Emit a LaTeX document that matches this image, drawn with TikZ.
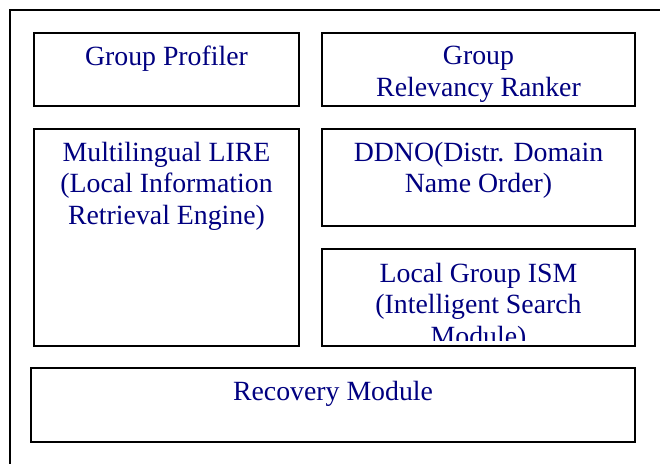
\documentclass[tikz,border=0pt]{standalone}
\usepackage{fontspec}
\setmainfont{Liberation Serif}
\definecolor{navytext}{RGB}{0,0,128}
\begin{document}
\begin{tikzpicture}[x=1pt,y=-1pt,
  box/.style={draw=black, line width=2.6pt, inner sep=0pt, outer sep=0pt, rectangle},
  txt/.style={text=navytext, font=\fontsize{27.8pt}{31.5pt}\selectfont, align=center, inner sep=0pt, anchor=base}]
\useasboundingbox (0,0) rectangle (660,463);
\clip (0,0) rectangle (660,463);
\fill[white] (0,0) rectangle (660,463);
\node[box, minimum width=680pt, minimum height=480pt] (outer) at (350,250) {};
\node[box, minimum width=265pt, minimum height=73pt] (gp) at (166.5,69.5) {};
\node[box, minimum width=313pt, minimum height=73pt] (grr) at (478.5,69.5) {};
\node[box, minimum width=265pt, minimum height=217pt] (lire) at (166.5,237.5) {};
\node[box, minimum width=313pt, minimum height=97pt] (ddno) at (478.5,177.5) {};
\node[box, minimum width=313pt, minimum height=97pt] (ism) at (478.5,297.5) {};
\node[box, minimum width=604pt, minimum height=74pt] (rec) at (333,405) {};
\node[txt] (gpt) at ([yshift=-32pt]gp.north) {Group Profiler};
\node[txt] (grrt) at ([yshift=-63pt]grr.north) {Group\\Relevancy Ranker};
\node[txt] (liret) at ([yshift=-95pt]lire.north) {Multilingual LIRE\\(Local Information\\Retrieval Engine)};
\node[txt] (ddnot) at ([yshift=-63.5pt]ddno.north) {DDNO(Distr. Domain\\Name Order)};
\begin{scope}
\clip ([yshift=-1pt]ism.north west) rectangle ([yshift=6pt]ism.south east);
\node[txt] (ismt) at ([yshift=-96pt]ism.north) {Local Group ISM\\(Intelligent Search\\Module)};
\end{scope}
\node[txt] (rect) at ([yshift=-32pt]rec.north) {Recovery Module};
\end{tikzpicture}
\end{document}
